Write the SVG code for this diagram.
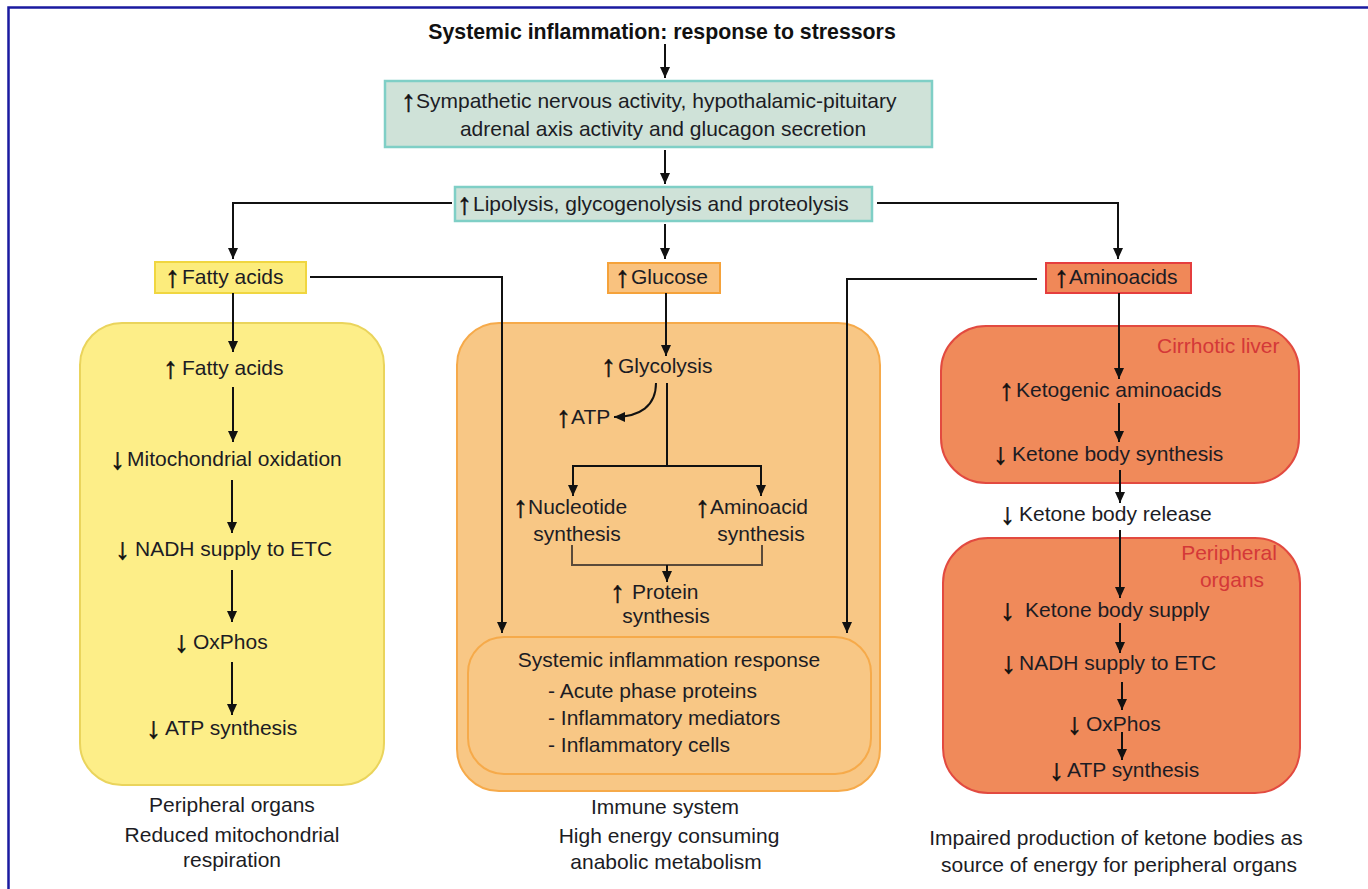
<svg xmlns="http://www.w3.org/2000/svg" width="1368" height="889" viewBox="0 0 1368 889">
<defs>
<marker id="ah" markerUnits="userSpaceOnUse" markerWidth="12" markerHeight="12" viewBox="0 0 12 12" refX="11" refY="6" orient="auto">
<path d="M0,1 L11,6 L0,11 z" fill="#111"/>
</marker>
<style>
text{font-family:"Liberation Sans",Arial,sans-serif;font-size:21px;fill:#1c1c24}
.t{font-weight:bold;fill:#111;font-size:21.3px}
.c{text-anchor:middle}
.red{fill:#d43838}
.a{font-size:30px;font-weight:bold;fill:#111;stroke:#111;stroke-width:0.6}
.ln{fill:none;stroke:#111;stroke-width:2}
.arr{marker-end:url(#ah)}
.teal{fill:#cfe2d8;stroke:#7fcfc6;stroke-width:2.5}
.ysm{fill:#fcec7c;stroke:#f0d640;stroke-width:2}
.ybig{fill:#fdee88;stroke:#ead45c;stroke-width:2}
.osm{fill:#f9c27f;stroke:#f5a23a;stroke-width:2}
.obig{fill:#f8c785;stroke:#f6aa4a;stroke-width:2}
.rsm{fill:#f08858;stroke:#e53e3e;stroke-width:2}
.rbig{fill:#f08a5a;stroke:#e24a40;stroke-width:2}
</style>
</defs>
<rect width="1368" height="889" fill="#fff"/>
<path d="M8.5,889 V7.5 H1368" fill="none" stroke="#1a1aa0" stroke-width="2.5"/>

<g id="title"><text class="t c" x="662" y="39">Systemic inflammation: response to stressors</text></g>

<g id="box-sympathetic">
<rect class="teal" x="385" y="81" width="547" height="66"/>
<text><tspan class="a" x="401" y="111">↑</tspan><tspan x="416" y="108">Sympathetic nervous activity, hypothalamic-pituitary</tspan></text>
<text class="c" x="663" y="136">adrenal axis activity and glucagon secretion</text>
</g>

<g id="box-lipolysis">
<rect class="teal" x="455" y="187" width="417" height="34"/>
<text><tspan class="a" x="457" y="214">↑</tspan><tspan x="473" y="211">Lipolysis, glycogenolysis and proteolysis</tspan></text>
</g>

<g id="box-fatty">
<rect class="ysm" x="155" y="262" width="151" height="31"/>
<text><tspan class="a" x="165" y="287">↑</tspan><tspan x="182" y="284">Fatty acids</tspan></text>
</g>
<g id="box-glucose">
<rect class="osm" x="608" y="263" width="112" height="30"/>
<text><tspan class="a" x="615" y="287">↑</tspan><tspan x="631" y="284">Glucose</tspan></text>
</g>
<g id="box-aminoacids">
<rect class="rsm" x="1046" y="263" width="145" height="30"/>
<text><tspan class="a" x="1054" y="287">↑</tspan><tspan x="1069" y="284">Aminoacids</tspan></text>
</g>

<g id="panel-peripheral">
<rect class="ybig" x="80" y="323" width="304" height="462" rx="42"/>
<text><tspan class="a" x="163" y="378">↑</tspan><tspan x="182" y="375">Fatty acids</tspan></text>
<text><tspan class="a" x="110" y="469">↓</tspan><tspan x="127" y="466">Mitochondrial oxidation</tspan></text>
<text><tspan class="a" x="115" y="559">↓</tspan><tspan x="135" y="556">NADH supply to ETC</tspan></text>
<text><tspan class="a" x="174" y="652">↓</tspan><tspan x="193" y="649">OxPhos</tspan></text>
<text><tspan class="a" x="146" y="738">↓</tspan><tspan x="165" y="735">ATP synthesis</tspan></text>
<text class="c" x="232" y="812">Peripheral organs</text>
<text class="c" x="232" y="842">Reduced mitochondrial</text>
<text class="c" x="232" y="867">respiration</text>
</g>

<g id="panel-immune">
<rect class="obig" x="457" y="323" width="423" height="468" rx="42"/>
<text><tspan class="a" x="601" y="376">↑</tspan><tspan x="618" y="373">Glycolysis</tspan></text>
<text><tspan class="a" x="556" y="427">↑</tspan><tspan x="571" y="424">ATP</tspan></text>
<text><tspan class="a" x="513" y="517">↑</tspan><tspan x="528" y="514">Nucleotide</tspan></text>
<text class="c" x="577" y="541">synthesis</text>
<text><tspan class="a" x="695" y="517">↑</tspan><tspan x="710" y="514">Aminoacid</tspan></text>
<text class="c" x="761" y="541">synthesis</text>
<text><tspan class="a" x="610" y="602">↑</tspan><tspan x="632" y="599">Protein</tspan></text>
<text class="c" x="666" y="623">synthesis</text>
</g>

<g id="box-sir">
<rect class="obig" x="468" y="637" width="403" height="137" rx="36"/>
<text class="c" x="669" y="667">Systemic inflammation response</text>
<text x="548" y="698">- Acute phase proteins</text>
<text x="548" y="725">- Inflammatory mediators</text>
<text x="548" y="752">- Inflammatory cells</text>
<text class="c" x="665" y="814">Immune system</text>
<text class="c" x="669" y="843">High energy consuming</text>
<text class="c" x="666" y="869">anabolic metabolism</text>
</g>

<g id="panel-liver">
<rect class="rbig" x="941" y="326" width="358" height="157" rx="45"/>
<text class="red" x="1157" y="353">Cirrhotic liver</text>
<text><tspan class="a" x="999" y="400">↑</tspan><tspan x="1016" y="397">Ketogenic aminoacids</tspan></text>
<text><tspan class="a" x="993" y="464">↓</tspan><tspan x="1012" y="461">Ketone body synthesis</tspan></text>
</g>

<g id="label-release">
<text><tspan class="a" x="1000" y="524">↓</tspan><tspan x="1019" y="521">Ketone body release</tspan></text>
</g>

<g id="panel-peripheral-organs">
<rect class="rbig" x="943" y="538" width="357" height="255" rx="45"/>
<text class="red c" x="1229" y="560">Peripheral</text>
<text class="red c" x="1232" y="587">organs</text>
<text><tspan class="a" x="1000" y="620">↓</tspan><tspan x="1025" y="617">Ketone body supply</tspan></text>
<text><tspan class="a" x="1001" y="673">↓</tspan><tspan x="1019" y="670">NADH supply to ETC</tspan></text>
<text><tspan class="a" x="1067" y="734">↓</tspan><tspan x="1086" y="731">OxPhos</tspan></text>
<text><tspan class="a" x="1049" y="780">↓</tspan><tspan x="1067" y="777">ATP synthesis</tspan></text>
<text class="c" x="1116" y="845">Impaired production of ketone bodies as</text>
<text class="c" x="1119" y="872">source of energy for peripheral organs</text>
</g>

<g id="connectors">
<path class="ln arr" d="M665,44 V78"/>
<path class="ln arr" d="M665,150 V184"/>
<path class="ln arr" d="M665,224 V259"/>
<path class="ln arr" d="M452,203 H233 V259"/>
<path class="ln arr" d="M877,203 H1118 V259"/>
<path class="ln arr" d="M310,277 H502 V633"/>
<path class="ln arr" d="M1037,279 H847 V633"/>
<path class="ln arr" d="M233,293 V352"/>
<path class="ln arr" d="M233,387 V442"/>
<path class="ln arr" d="M232,480 V533"/>
<path class="ln arr" d="M232,570 V622"/>
<path class="ln arr" d="M232,662 V715"/>
<path class="ln arr" d="M666,293 V356"/>
<path class="ln arr" d="M656,383 C656,406 640,417 614,417"/>
<path class="ln" d="M667,383 V466 M573,466 H761"/>
<path class="ln arr" d="M573,465 V496"/>
<path class="ln arr" d="M761,465 V496"/>
<path d="M572,545 V565 H762 V545" fill="none" stroke="#5a4a3a" stroke-width="2"/>
<path class="ln arr" d="M667,565 V582"/>
<path class="ln arr" d="M1119,293 V379"/>
<path class="ln arr" d="M1119,403 V442"/>
<path class="ln arr" d="M1120,470 V503"/>
<path class="ln arr" d="M1120,530 V598"/>
<path class="ln arr" d="M1120,623 V653"/>
<path class="ln arr" d="M1122,682 V710"/>
<path class="ln arr" d="M1122,732 V760"/>
</g>
</svg>
